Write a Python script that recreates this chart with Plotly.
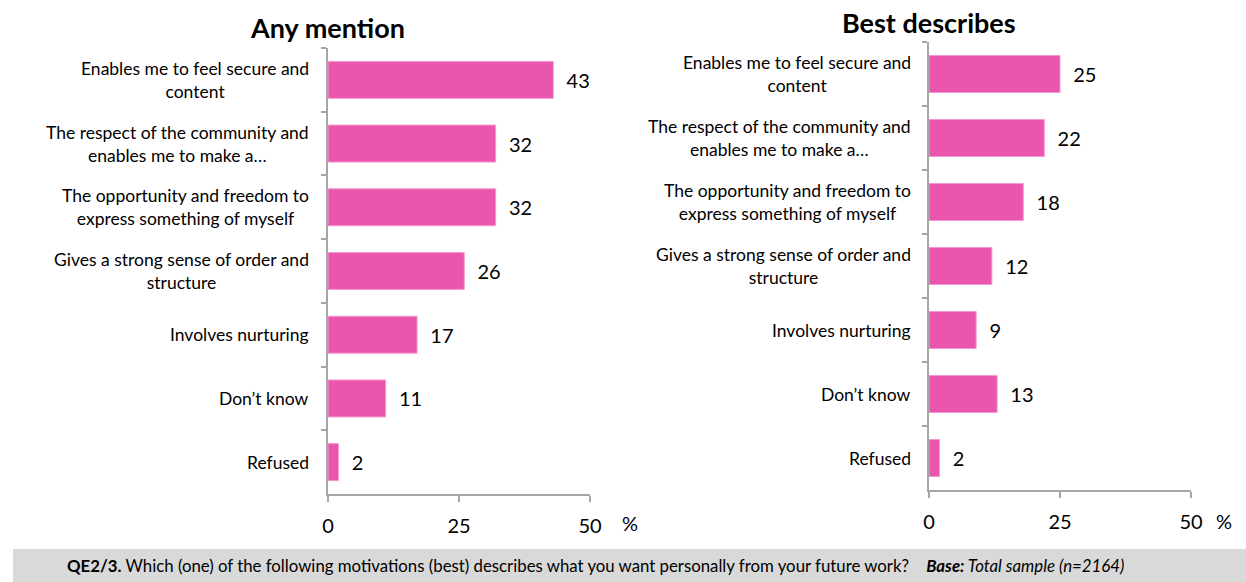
import plotly.graph_objects as go

categories = [
    "Enables me to feel secure and<br>content",
    "The respect of the community and<br>enables me to make a…",
    "The opportunity and freedom to<br>express something of myself",
    "Gives a strong sense of order and<br>structure",
    "Involves nurturing",
    "Don’t know",
    "Refused",
]
any_mention = [43, 32, 32, 26, 17, 11, 2]
best_describes = [25, 22, 18, 12, 9, 13, 2]
x_ticks = [0, 25, 50]
titles = ["Any mention", "Best describes"]

W, H = 1246, 582
PINK = "#EA56AE"
AXIS = "#A6A6A6"
FONT = "Lato, 'Open Sans', sans-serif"

def px_x(p):
    return p / W

def px_y(p):
    return 1 - p / H

fig = go.Figure()

panels = [
    dict(vals=any_mention, x0=328, x1=590, top=48, bot=494, title=titles[0], tx=327, ty=27, pct=(630, 523), lab_gap=17),
    dict(vals=best_describes, x0=929, x1=1191, top=42, bot=490, title=titles[1], tx=929, ty=23, pct=(1224, 521), lab_gap=16),
]

annotations = []
shapes = []
for i, p in enumerate(panels):
    xa = "x" if i == 0 else "x2"
    ya = "y" if i == 0 else "y2"
    fig.add_trace(go.Bar(
        x=p["vals"], y=categories, orientation="h",
        xaxis=xa, yaxis=ya,
        marker=dict(color=PINK, line=dict(color="#F59AD0", width=1)),
        text=p["vals"], texttemplate="\u00a0\u00a0%{text}",
        textposition="outside", cliponaxis=False,
        textfont=dict(size=20, color="#000000", family=FONT),
        showlegend=False, hoverinfo="skip",
    ))
    xkey = "xaxis" if i == 0 else "xaxis2"
    ykey = "yaxis" if i == 0 else "yaxis2"
    fig.layout[xkey] = dict(
        domain=[px_x(p["x0"]), px_x(p["x1"])], range=[0, 50], anchor=ya,
        tickvals=x_ticks, ticktext=[str(t) for t in x_ticks],
        showline=True, linecolor=AXIS, linewidth=1.5,
        ticks="outside", ticklen=6, tickcolor=AXIS, tickwidth=1.5,
        ticklabelstandoff=7, automargin=False,
        showgrid=False, zeroline=False,
        tickfont=dict(size=20, color="#000000", family=FONT),
        fixedrange=True,
    )
    fig.layout[ykey] = dict(
        domain=[px_y(p["bot"]), px_y(p["top"])], anchor=xa,
        autorange="reversed", type="category",
        showline=True, linecolor=AXIS, linewidth=1.5,
        ticks="outside", tickson="boundaries", ticklen=5, tickcolor=AXIS, tickwidth=1.5,
        showticklabels=False, showgrid=False, zeroline=False, automargin=False,
        fixedrange=True,
    )
    for c in categories:
        annotations.append(dict(
            x=px_x(p["x0"] - p["lab_gap"]), xref="paper", y=c, yref=ya,
            text=c, showarrow=False, xanchor="right", yanchor="middle", align="center",
            font=dict(size=17.5, color="#000000", family=FONT),
        ))
    annotations.append(dict(
        x=px_x(p["tx"]), y=px_y(p["ty"]), xref="paper", yref="paper",
        text="<b>" + p["title"] + "</b>", showarrow=False, xanchor="center", yanchor="middle",
        font=dict(size=27, color="#000000", family=FONT),
    ))
    annotations.append(dict(
        x=px_x(p["pct"][0]), y=px_y(p["pct"][1]), xref="paper", yref="paper",
        text="%", showarrow=False, xanchor="center", yanchor="middle",
        font=dict(size=20, color="#000000", family=FONT),
    ))

shapes.append(dict(type="rect", xref="paper", yref="paper",
                   x0=px_x(13), x1=1, y0=0, y1=px_y(549),
                   fillcolor="#D9D9D9", line=dict(width=0), layer="below"))
annotations.append(dict(
    x=px_x(65), y=px_y(565), xref="paper", yref="paper", xanchor="left", yanchor="middle",
    showarrow=False,
    text="<b>QE2/3.</b> Which (one) of the following motivations (best) describes what you want personally from your future work?\u00a0\u00a0\u00a0\u00a0<b><i>Base:</i></b><i> Total sample (n=2164)</i>",
    font=dict(size=16.8, color="#000000", family=FONT),
))

fig.update_layout(
    width=W, height=H, autosize=False, margin=dict(l=0, r=0, t=0, b=0, pad=0),
    paper_bgcolor="white", plot_bgcolor="white",
    bargap=0.42, annotations=annotations, shapes=shapes,
    font=dict(family=FONT), showlegend=False,
)

fig.write_html("out.html", config={"responsive": False})
